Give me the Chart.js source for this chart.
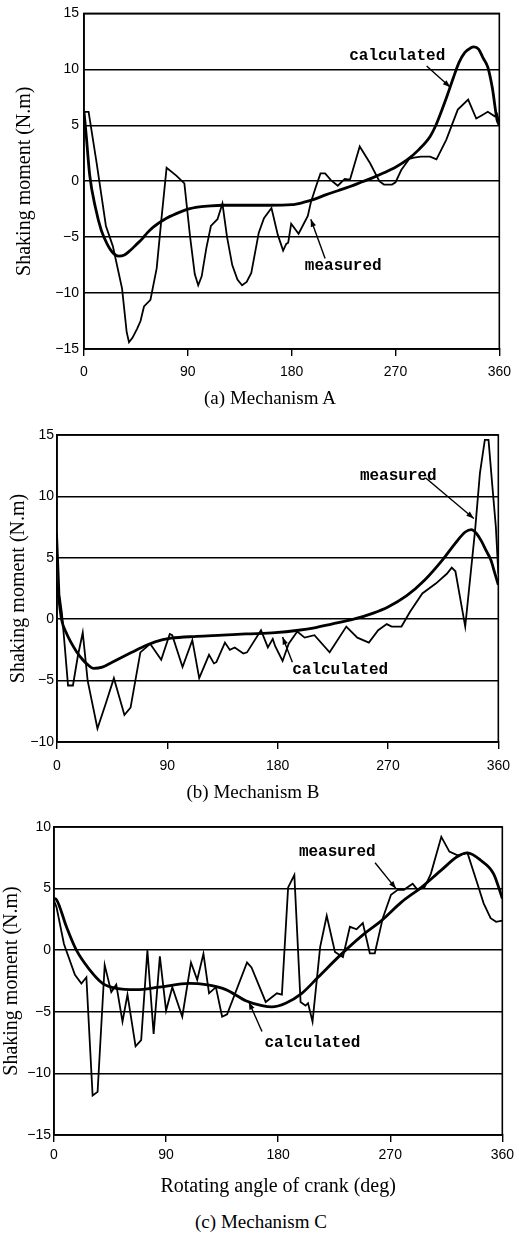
<!DOCTYPE html>
<html>
<head>
<meta charset="utf-8">
<script src="https://cdn.jsdelivr.net/npm/chart.js@4.4.1/dist/chart.umd.min.js"></script>
<style>
html,body{margin:0;padding:0;background:#fff;}
#wrap{position:relative;width:519px;height:1235px;overflow:hidden;background:#fff;}
canvas{position:absolute;left:0;}
.cap{position:absolute;transform:translate(-50%,-50%);white-space:nowrap;font-family:"Liberation Serif","Times New Roman",serif;font-size:19px;color:#000;}
</style>
</head>
<body>
<div id="wrap">
<canvas id="cA" width="519" height="390" style="top:0px"></canvas>
<canvas id="cB" width="519" height="365" style="top:420px"></canvas>
<canvas id="cC" width="519" height="392" style="top:815px"></canvas>
<div class="cap" style="left:270px;top:398px">(a) Mechanism A</div>
<div class="cap" style="left:253px;top:792px">(b) Mechanism B</div>
<div class="cap" style="left:261px;top:1222px">(c) Mechanism C</div>
</div>
<script>
// ---------- DATA ----------
const xTicks = [0, 90, 180, 270, 360];

// Mechanism A
const angA_meas = [0,4,11,19,25,33,37,39,42,46,49,52,57.6,63,67,71.6,80,87,92,96,99,102,106,110,115.7,120,124,128.5,133,137,141,145,151.5,156,162.5,168,172.6,175.3,177,179.6,186,194,196.6,201,205,209,214,220,226,230.6,239,248,256,260,267,270,275,282,286,292,300,305.5,314,324,333,340,345,350,356,358,360];
const valA_meas = [6.2,6.2,1.6,-4.0,-5.8,-9.6,-13.5,-14.4,-14.0,-13.2,-12.5,-11.2,-10.6,-7.8,-3.5,1.2,0.5,-0.2,-5.0,-8.3,-9.3,-8.5,-6.0,-4.0,-3.4,-2.0,-5.0,-7.5,-8.8,-9.3,-9.0,-8.2,-4.6,-3.3,-2.4,-4.8,-6.2,-5.6,-5.5,-3.8,-4.7,-3.1,-1.9,-0.5,0.7,0.7,0.1,-0.4,0.2,0.15,3.1,1.6,0.0,-0.3,-0.3,-0.1,1.0,2.0,2.1,2.2,2.2,1.95,3.7,6.4,7.3,5.6,5.9,6.2,5.8,6.0,5.2];
const angA_calc = [0,2,5,10,15,20,25,30,35,40,45,50,55,60,70,80,90,100,110,120,140,160,180,190,200,210,220,230,240,250,260,270,280,290,300,305,310,315,320,325,330,335,338,342,346,350,354,358,360];
const valA_calc = [6.2,4.0,0.5,-2.4,-4.4,-5.6,-6.4,-6.7,-6.6,-6.2,-5.7,-5.2,-4.6,-4.1,-3.4,-2.9,-2.5,-2.3,-2.2,-2.15,-2.15,-2.15,-2.1,-1.9,-1.6,-1.2,-0.85,-0.5,-0.1,0.3,0.75,1.25,1.9,2.8,4.0,5.0,6.3,7.7,9.2,10.6,11.5,11.9,12.0,11.8,11.0,10.2,8.3,5.5,5.0];

// Mechanism B
const angB_meas = [0,2,4,6.4,9,13,17,21,25,33,40,46.4,55,60,68,76,85,92,94,102.4,110.4,116,124,128,130,137,141,145,152,155,166.4,172,176,178,184,189,196,202,210,222.4,236,245,254.4,262,269,273,281,288,298,309,318,322,325,333,341,345,349,352,355,358,360];
const valB_meas = [7.0,2.0,0.5,-2.3,-5.4,-5.4,-3.0,-1.1,-5.0,-8.9,-6.8,-4.8,-7.8,-7.2,-2.7,-2.0,-3.3,-1.2,-1.3,-3.9,-1.7,-4.8,-2.9,-3.6,-3.5,-1.9,-2.5,-2.3,-2.8,-2.7,-0.9,-2.3,-1.6,-2.2,-3.4,-2.0,-1.0,-1.5,-1.3,-2.7,-0.6,-1.5,-1.9,-0.9,-0.4,-0.6,-0.6,0.6,2.1,2.9,3.7,4.2,3.9,-0.6,7.2,11.9,14.6,14.6,11.0,7.5,3.7];
const angB_calc = [0,3.7,8,15.7,21,25,30,37,45,53,61,69,80,93,114,135,154,178,197,210,224,242,258,270,285,300,315,325,333,338,342,346,350,354,357,360];
const valB_calc = [3.0,0.0,-1.2,-2.6,-3.3,-3.7,-4.0,-3.9,-3.5,-3.1,-2.7,-2.3,-1.85,-1.55,-1.4,-1.3,-1.2,-1.1,-0.9,-0.7,-0.4,0.0,0.5,1.0,1.9,3.2,4.9,6.2,7.1,7.3,7.0,6.4,5.6,4.8,3.8,2.8];

// Mechanism C
const angC_meas = [0,2,8,16.8,22,26,31,35,40.7,46,50,55,59,65.5,70,75,80,85,90,95,103,110,115,120,124.5,130,135,139,155,158.6,170,179,183,188,193,198,202,204,207.6,213.7,219,225.6,232,237.6,243,248,253.6,257.6,264,270.6,276,281,288,292,297.5,302.6,311,317.5,324,332,340,345,350.6,355,360];
const valC_meas = [4.0,3.5,0.5,-2.0,-2.7,-2.2,-11.8,-11.5,-1.2,-3.4,-2.8,-5.8,-3.6,-7.8,-7.3,0.0,-6.8,-0.5,-4.9,-3.0,-5.4,-1.0,-2.4,-0.3,-3.5,-3.0,-5.4,-5.2,-1.0,-1.4,-4.2,-3.5,-3.6,5.1,6.1,-4.2,-4.5,-4.3,-5.8,0.25,2.8,-0.15,-0.55,1.9,1.7,2.2,-0.25,-0.25,2.6,4.5,4.9,4.9,5.4,4.9,5.1,6.2,9.2,8.0,7.7,7.9,5.4,3.8,2.6,2.3,2.4];
const angC_calc = [0,2,10,18,28.7,39,50,66,84.6,108.6,122,138,154,167,175,186,199,212,231,250,263,279,295,311,324,332,342.6,353,360];
const valC_calc = [4.2,4.1,1.9,0.0,-1.6,-2.7,-3.1,-3.2,-3.0,-2.7,-2.8,-3.2,-4.1,-4.5,-4.6,-4.3,-3.5,-2.2,-0.3,1.4,2.4,3.9,5.1,6.5,7.6,7.9,7.3,6.2,4.2];

// ---------- HELPERS ----------
const pts = (xs, ys) => xs.map((x, i) => ({x: x, y: ys[i]}));
Chart.defaults.font.family = '"Liberation Sans", Arial, sans-serif';
Chart.defaults.color = '#000';

const framePlugin = {
  id: 'frameNotes',
  afterDatasetsDraw(chart, args, opts) {
    const {ctx, chartArea: a, scales} = chart;
    const sx = scales.x, sy = scales.y;
    ctx.save();
    ctx.strokeStyle = '#000';
    ctx.lineWidth = 1.6;
    ctx.strokeRect(a.left, a.top, a.right - a.left, a.bottom - a.top);
    (opts.items || []).forEach(n => {
      ctx.font = 'bold 16px "Liberation Mono", "Courier New", monospace';
      ctx.fillStyle = '#000';
      ctx.textAlign = 'center';
      ctx.textBaseline = 'middle';
      ctx.fillText(n.text, sx.getPixelForValue(n.at[0]), sy.getPixelForValue(n.at[1]));
      const x1 = sx.getPixelForValue(n.from[0]), y1 = sy.getPixelForValue(n.from[1]);
      const x2 = sx.getPixelForValue(n.to[0]), y2 = sy.getPixelForValue(n.to[1]);
      ctx.lineWidth = 1.4;
      ctx.beginPath(); ctx.moveTo(x1, y1); ctx.lineTo(x2, y2); ctx.stroke();
      const ang = Math.atan2(y2 - y1, x2 - x1), L = 8, W = 0.35;
      ctx.beginPath();
      ctx.moveTo(x2, y2);
      ctx.lineTo(x2 - L * Math.cos(ang - W), y2 - L * Math.sin(ang - W));
      ctx.lineTo(x2 - L * Math.cos(ang + W), y2 - L * Math.sin(ang + W));
      ctx.closePath(); ctx.fill();
    });
    ctx.restore();
  }
};

function makeChart(id, cfg) {
  const ctx = document.getElementById(id);
  return new Chart(ctx, {
    type: 'line',
    data: {
      datasets: [
        {label: 'measured', data: pts(cfg.mx, cfg.my), borderColor: '#000', borderWidth: 1.8, pointRadius: 0, tension: 0, fill: false},
        {label: 'calculated', data: pts(cfg.cx, cfg.cy), borderColor: '#000', borderWidth: 2.8, pointRadius: 0, cubicInterpolationMode: 'monotone', fill: false}
      ]
    },
    options: {
      responsive: false,
      animation: false,
      devicePixelRatio: 1,
      layout: {padding: {top: cfg.padTop, right: 12, bottom: 0, left: 0}},
      plugins: {legend: {display: false}, tooltip: {enabled: false}, frameNotes: {items: cfg.notes}},
      scales: {
        x: {
          type: 'linear', min: 0, max: 360,
          afterBuildTicks: s => { s.ticks = xTicks.map(v => ({value: v})); },
          afterFit: s => { s.height = cfg.xH; },
          ticks: {font: {size: 14}, padding: cfg.xPad, maxRotation: 0, color: '#000'},
          grid: {display: true, drawOnChartArea: false, drawTicks: true, tickLength: 7, color: '#000', lineWidth: 1.4},
          border: {display: true, color: '#000', width: 1.6},
          title: cfg.xTitle ? {display: true, text: cfg.xTitle, font: {family: '"Liberation Serif", "Times New Roman", serif', size: 20}, padding: {top: 0, bottom: 8}, color: '#000'} : {display: false}
        },
        y: {
          type: 'linear', min: cfg.ymin, max: cfg.ymax,
          ticks: {stepSize: 5, font: {size: 14}, padding: cfg.yPad, color: '#000',
                  callback: v => (v < 0 ? '\u2212' + Math.abs(v) : String(v))},
          afterFit: s => { s.width = cfg.left; },
          grid: {color: '#000', lineWidth: 1.5, drawTicks: false},
          border: {display: true, color: '#000', width: 1.6},
          title: {display: true, text: 'Shaking moment (N.m)', font: {family: '"Liberation Serif", "Times New Roman", serif', size: 20}, padding: {top: cfg.yTitlePad, bottom: 0}, color: '#000'}
        }
      }
    },
    plugins: [framePlugin]
  });
}

makeChart('cA', {
  mx: angA_meas, my: valA_meas, cx: angA_calc, cy: valA_calc,
  ymin: -15, ymax: 15, left: 84, padTop: 10, xH: 41, xPad: 8, yPad: 5, yTitlePad: 13,
  notes: [
    {text: 'calculated', at: [271.5, 11.2], from: [297, 10.3], to: [317.5, 8.4]},
    {text: 'measured', at: [224.7, -7.6], from: [209, -6.9], to: [196.6, -3.4]}
  ]
});

makeChart('cB', {
  mx: angB_meas, my: valB_meas, cx: angB_calc, cy: valB_calc,
  ymin: -10, ymax: 15, left: 57, padTop: 15, xH: 43, xPad: 9, yPad: 3, yTitlePad: 7,
  notes: [
    {text: 'measured', at: [278.4, 11.7], from: [300.8, 11.5], to: [340, 8.2]},
    {text: 'calculated', at: [231, -4.15], from: [192, -3.5], to: [184, -1.45]}
  ]
});

makeChart('cC', {
  mx: angC_meas, my: valC_meas, cx: angC_calc, cy: valC_calc,
  ymin: -15, ymax: 10, left: 54, padTop: 12, xH: 72, xPad: 5, yPad: 3, yTitlePad: 0,
  xTitle: 'Rotating angle of crank (deg)',
  notes: [
    {text: 'measured', at: [227.5, 8.0], from: [257.8, 7.1], to: [274.6, 5.0]},
    {text: 'calculated', at: [207.5, -7.55], from: [167, -6.6], to: [156.5, -4.2]}
  ]
});
</script>
</body>
</html>
